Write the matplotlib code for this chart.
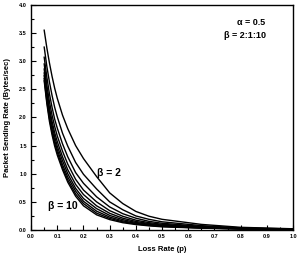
import matplotlib
matplotlib.use('Agg')
from matplotlib import pyplot as plt
from matplotlib.ticker import MultipleLocator

plt.rcParams['font.family'] = ['Liberation Sans', 'DejaVu Sans']
plt.rcParams['font.weight'] = 'bold'

# loss rate p
p = [0.05, 0.06, 0.07, 0.08, 0.09, 0.10, 0.12, 0.14, 0.17, 0.20,
     0.25, 0.30, 0.35, 0.40, 0.45, 0.50, 0.65, 0.80, 1.00]

# packet sending rate for beta = 2 .. 10
rate_b2 = [3.55, 3.24, 2.97, 2.73, 2.52, 2.34, 2.04, 1.80, 1.50, 1.27,
           0.95, 0.66, 0.47, 0.33, 0.245, 0.19, 0.10, 0.048, 0.022]
rate_b3 = [3.25, 2.91, 2.63, 2.39, 2.18, 2.01, 1.72, 1.49, 1.20, 0.99,
           0.73, 0.50, 0.36, 0.25, 0.19, 0.146, 0.078, 0.038, 0.018]
rate_b4 = [3.07, 2.72, 2.42, 2.18, 1.97, 1.81, 1.53, 1.30, 1.02, 0.83,
           0.59, 0.41, 0.29, 0.21, 0.154, 0.12, 0.064, 0.032, 0.015]
rate_b5 = [2.95, 2.58, 2.28, 2.04, 1.84, 1.67, 1.40, 1.17, 0.90, 0.71,
           0.50, 0.344, 0.244, 0.175, 0.131, 0.102, 0.055, 0.028, 0.013]
rate_b6 = [2.86, 2.48, 2.17, 1.93, 1.73, 1.57, 1.30, 1.07, 0.81, 0.63,
           0.43, 0.297, 0.21, 0.152, 0.114, 0.088, 0.049, 0.025, 0.012]
rate_b7 = [2.79, 2.41, 2.10, 1.86, 1.66, 1.49, 1.23, 1.00, 0.74, 0.56,
           0.38, 0.26, 0.184, 0.134, 0.101, 0.078, 0.044, 0.023, 0.011]
rate_b8 = [2.74, 2.34, 2.03, 1.79, 1.59, 1.43, 1.16, 0.94, 0.69, 0.51,
           0.335, 0.23, 0.162, 0.119, 0.09, 0.07, 0.039, 0.021, 0.010]
rate_b9 = [2.69, 2.29, 1.98, 1.74, 1.54, 1.38, 1.11, 0.89, 0.64, 0.47,
           0.30, 0.206, 0.145, 0.107, 0.082, 0.063, 0.036, 0.019, 0.010]
rate_b10 = [2.65, 2.25, 1.93, 1.69, 1.49, 1.33, 1.07, 0.85, 0.60, 0.43,
            0.27, 0.185, 0.13, 0.097, 0.074, 0.057, 0.033, 0.018, 0.009]

curves = [rate_b2, rate_b3, rate_b4, rate_b5, rate_b6,
          rate_b7, rate_b8, rate_b9, rate_b10]

fig = plt.figure(figsize=(2.99, 2.57), dpi=100)
ax = fig.add_axes([0.104, 0.105, 0.876, 0.876])

for r in curves:
    ax.plot(p, r, color='black', lw=1.0)

ax.set_xlim(0, 1.0)
ax.set_ylim(0, 4.0)
ax.xaxis.set_major_locator(MultipleLocator(0.1))
ax.xaxis.set_minor_locator(MultipleLocator(0.05))
ax.yaxis.set_major_locator(MultipleLocator(0.5))
ax.yaxis.set_minor_locator(MultipleLocator(0.25))
ax.xaxis.set_major_formatter(lambda v, pos: '%.1f' % v)
ax.yaxis.set_major_formatter(lambda v, pos: '%.1f' % v)
ax.tick_params(which='both', direction='in', top=False, right=False,
               labelsize=4, width=0.8, pad=3)
ax.tick_params(which='major', length=3.5)
ax.tick_params(which='minor', length=2)
for s in ax.spines.values():
    s.set_linewidth(1.0)

ax.set_xlabel('Loss Rate (p)', fontsize=5.5, fontweight='bold', labelpad=5)
ax.set_ylabel('Packet Sending Rate (Bytes/sec)', fontsize=5.5,
              fontweight='bold', labelpad=6)

ax.text(0.895, 3.68, 'α = 0.5', fontsize=6.5, fontweight='bold',
        ha='right', va='center')
ax.text(0.895, 3.45, 'β = 2:1:10', fontsize=6.5, fontweight='bold',
        ha='right', va='center')
ax.text(0.25, 1.02, 'β = 2', fontsize=7.5, fontweight='bold',
        ha='left', va='center')
ax.text(0.065, 0.43, 'β = 10', fontsize=7.5, fontweight='bold',
        ha='left', va='center')

plt.savefig('out.png', dpi=100)
